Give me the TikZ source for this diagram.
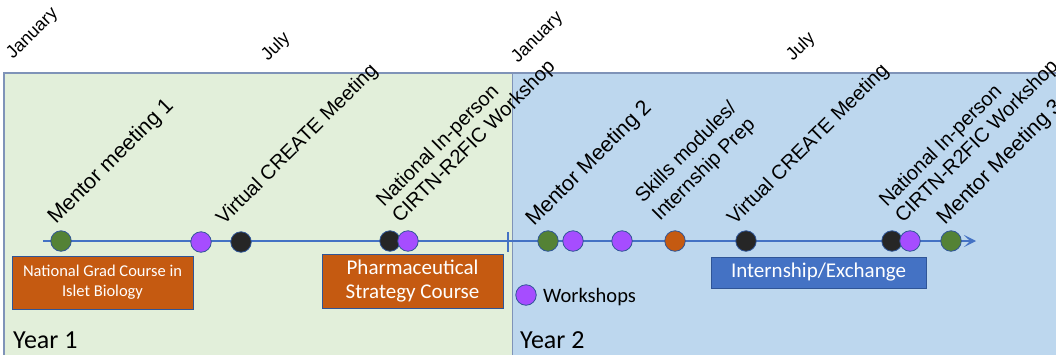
\documentclass[tikz,border=0pt]{standalone}
\usepackage{fontspec}
\setmainfont{Carlito}
\newfontfamily\arialf{Liberation Sans}
\usetikzlibrary{arrows.meta}
\definecolor{pgreen}{HTML}{E2EFDA}
\definecolor{pblue}{HTML}{BDD7EE}
\definecolor{pborder}{HTML}{7F93B8}
\definecolor{tline}{HTML}{4472C4}
\definecolor{cgreen}{HTML}{548235}
\definecolor{cpurple}{HTML}{A64DFF}
\definecolor{cblack}{HTML}{262626}
\definecolor{corange}{HTML}{C55A11}
\definecolor{cedge}{HTML}{2F5597}
\begin{document}
\begin{tikzpicture}[x=1pt,y=-1pt,
 dot/.style={circle,draw=cedge,line width=0.8pt,minimum size=20.5pt,inner sep=0pt},
 month/.style={rotate=45,anchor=base west,inner sep=0pt,font=\arialf\fontsize{18}{21}\selectfont},
 evt/.style={rotate=45,anchor=base west,inner sep=0pt,font=\arialf\fontsize{20}{23}\selectfont},
 mentor/.style={evt,font=\arialf\fontsize{21.5}{25}\selectfont},
 box/.style={draw=cedge,line width=0.8pt,text=white,align=center,inner sep=0pt},
 yearlbl/.style={anchor=base west,inner sep=0pt,font=\fontsize{26}{30}\selectfont},
 ]
\useasboundingbox (0,0) rectangle (1056,354);
\clip (0,0) rectangle (1056,354);
% panels
\draw[fill=pgreen,draw=pborder,line width=1.5pt] (4,73) rectangle (512.5,362);
\draw[fill=pblue,draw=pborder,line width=1.5pt] (512.5,73) rectangle (1062,362);
% months
\node[month] (m1) at (13,60) {January};
\node[month] (m2) at (268,62) {July};
\node[month] (m3) at (518,64) {January};
\node[month] (m4) at (793,62) {July};
% timeline
\coordinate (tl0) at (43,241);
\coordinate (tl1) at (976,241);
\draw[tline,line width=2.6pt,-{Stealth[length=12pt,width=12pt,inset=6pt]}] (tl0) -- (tl1);
\coordinate (tk0) at (508,232);
\coordinate (tk1) at (508,252);
\draw[tline,line width=2.6pt] (tk0) -- (tk1);
% events
\node[dot,fill=cgreen] (e1) at (61,241) {};
\node[dot,fill=cpurple] (e2) at (201,242) {};
\node[dot,fill=cblack] (e3) at (241,242) {};
\node[dot,fill=cblack] (e4) at (390,241) {};
\node[dot,fill=cpurple] (e5) at (408,241) {};
\node[dot,fill=cgreen] (e6) at (548,241) {};
\node[dot,fill=cpurple] (e7) at (573,241) {};
\node[dot,fill=cpurple] (e8) at (622,241) {};
\node[dot,fill=corange] (e9) at (675,241) {};
\node[dot,fill=cblack] (e10) at (746,241) {};
\node[dot,fill=cblack] (e11) at (892,241) {};
\node[dot,fill=cpurple] (e12) at (910,241) {};
\node[dot,fill=cgreen] (e13) at (951,241) {};
% event labels
\node[mentor] (l1) at (56,225) {Mentor meeting 1};
\node[evt] (l2) at (224,226) {Virtual CREATE Meeting};
\node[evt] (l3a) at (384,208) {National In-person};
\node[evt] (l3b) at (400,224) {CIRTN-R2FIC Workshop};
\node[mentor] (l4) at (534,227) {Mentor Meeting 2};
\node[evt] (l5a) at (643,204) {Skills modules/};
\node[evt] (l5b) at (660,222) {Internship Prep};
\node[evt] (l6) at (735,226) {Virtual CREATE Meeting};
\node[evt] (l7a) at (887,208) {National In-person};
\node[evt] (l7b) at (903,224) {CIRTN-R2FIC Workshop};
\node[mentor] (l8) at (945,226) {Mentor Meeting 3};
% boxes
\node[box,fill=corange,minimum width=181pt,minimum height=53pt,font=\fontsize{16.5}{20}\selectfont] (b1) at (102.5,282.5) {National Grad Course in\\Islet Biology};
\node[box,fill=corange,minimum width=181pt,minimum height=54pt,font=\fontsize{21}{24.5}\selectfont] (b2) at (412.5,281) {Pharmaceutical\\Strategy Course};
\node[box,fill=tline,minimum width=215pt,minimum height=31pt,font=\fontsize{21}{24.5}\selectfont] (b3) at (818.5,272.5) {Internship/Exchange};
% legend
\node[dot,fill=cpurple] (lg) at (526,295) {};
\node[anchor=base west,inner sep=0pt,font=\fontsize{20.5}{24}\selectfont] (lgt) at (543,302) {Workshops};
% years
\node[yearlbl] (y1) at (13,348) {Year 1};
\node[yearlbl] (y2) at (520,348) {Year 2};
\end{tikzpicture}
\end{document}
